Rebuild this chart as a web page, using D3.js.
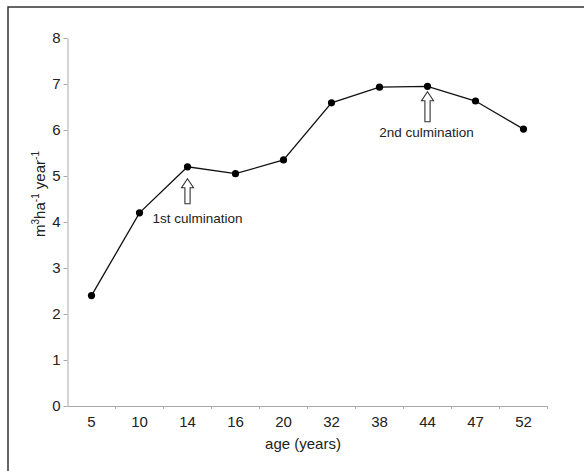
<!DOCTYPE html>
<html>
<head>
<meta charset="utf-8">
<script src="https://cdn.jsdelivr.net/npm/d3@7"></script>
<style>
  body { margin: 0; background: #fff; }
  svg { font-family: "Liberation Sans", Arial, sans-serif; }
</style>
</head>
<body>
<div id="chart"></div>
<script>
// data
var ages = ["5", "10", "14", "16", "20", "32", "38", "44", "47", "52"];
var increment = [2.4, 4.2, 5.2, 5.05, 5.35, 6.59, 6.93, 6.95, 6.63, 6.02];
var yTicks = [0, 1, 2, 3, 4, 5, 6, 7, 8];
var noteAges = ["14", "44"];
var noteTexts = ["1st culmination", "2nd culmination"];

var svgWidth = 584;
var svgHeight = 471;

var svg = d3.select("#chart")
  .append("svg")
  .attr("width", svgWidth)
  .attr("height", svgHeight);

// frame (only top and left fall inside the picture)
svg.append("rect")
  .attr("x", 8).attr("y", 7)
  .attr("width", 620).attr("height", 500)
  .attr("fill", "none")
  .attr("stroke", "#333")
  .attr("stroke-width", 1.5);

var x = d3.scaleBand()
  .domain(ages)
  .range([67.5, 547.5])
  .padding(0);

var y = d3.scaleLinear()
  .domain([0, 8])
  .range([406, 38]);

var axisColor = "#aaa";
var textColor = "#222";

// x axis: labels at band centres, ticks at band edges
var xAxis = svg.append("g")
  .attr("transform", "translate(0,406)")
  .call(d3.axisBottom(x).tickSize(0).tickPadding(10));
xAxis.select(".domain").attr("stroke", axisColor);
xAxis.selectAll("text")
  .attr("font-size", 15)
  .attr("fill", textColor)
  .attr("font-family", "Liberation Sans, Arial, sans-serif");

svg.append("g").selectAll("line")
  .data(ages)
  .enter()
  .append("line")
  .attr("x1", d => x(d) + x.step())
  .attr("x2", d => x(d) + x.step())
  .attr("y1", 406)
  .attr("y2", 409)
  .attr("stroke", axisColor);

// y axis
var yAxis = svg.append("g")
  .attr("transform", "translate(67.5,0)")
  .call(d3.axisLeft(y).tickValues(yTicks).tickSize(4).tickPadding(3).tickSizeOuter(0));
yAxis.selectAll("path, line").attr("stroke", axisColor);
yAxis.selectAll("text")
  .attr("font-size", 15)
  .attr("fill", textColor)
  .attr("font-family", "Liberation Sans, Arial, sans-serif");

// axis titles
svg.append("text")
  .attr("x", 303)
  .attr("y", 449)
  .attr("text-anchor", "middle")
  .attr("font-size", 15)
  .attr("fill", textColor)
  .text("age (years)");

var yTitle = svg.append("text")
  .attr("transform", "translate(45,194) rotate(-90)")
  .attr("text-anchor", "middle")
  .attr("font-size", 15)
  .attr("fill", textColor);
yTitle.append("tspan").text("m");
yTitle.append("tspan").attr("font-size", 10).attr("dy", -6).text("3");
yTitle.append("tspan").attr("dy", 6).text("ha");
yTitle.append("tspan").attr("font-size", 10).attr("dy", -6).text("-1");
yTitle.append("tspan").attr("dy", 6).text(" year");
yTitle.append("tspan").attr("font-size", 10).attr("dy", -6).text("-1");

// line and points
var pts = ages.map((a, i) => ({ age: a, v: increment[i] }));
var cx = d => x(d.age) + x.bandwidth() / 2;

svg.append("path")
  .datum(pts)
  .attr("fill", "none")
  .attr("stroke", "#111")
  .attr("stroke-width", 1.3)
  .attr("d", d3.line().x(cx).y(d => y(d.v)));

svg.append("g").selectAll("circle")
  .data(pts)
  .enter()
  .append("circle")
  .attr("cx", cx)
  .attr("cy", d => y(d.v))
  .attr("r", 3.6)
  .attr("fill", "#000");

// hollow up-arrows with labels
var arrow = function(xc, top, len) {
  var hw = 6, sw = 2.6, hh = 9;
  return "M" + xc + "," + top +
    "L" + (xc + hw) + "," + (top + hh) +
    "L" + (xc + sw) + "," + (top + hh) +
    "L" + (xc + sw) + "," + (top + len) +
    "L" + (xc - sw) + "," + (top + len) +
    "L" + (xc - sw) + "," + (top + hh) +
    "L" + (xc - hw) + "," + (top + hh) + "Z";
};

// gap below the point, arrow length, label shift (x) and label baseline below arrow
var arrowGap = [12, 5.5];
var arrowLen = [25, 30];
var labelDx = [10, -1];
var labelDy = [19, 15];

noteAges.forEach(function(a, k) {
  var i = ages.indexOf(a);
  var xc = x(a) + x.bandwidth() / 2;
  var top = y(increment[i]) + arrowGap[k];
  svg.append("path")
    .attr("d", arrow(xc, top, arrowLen[k]))
    .attr("fill", "#fff")
    .attr("stroke", "#333")
    .attr("stroke-width", 1.1);
  svg.append("text")
    .attr("x", xc + labelDx[k])
    .attr("y", top + arrowLen[k] + labelDy[k])
    .attr("text-anchor", "middle")
    .attr("font-size", 13.5)
    .attr("fill", textColor)
    .text(noteTexts[k]);
});
</script>
</body>
</html>
